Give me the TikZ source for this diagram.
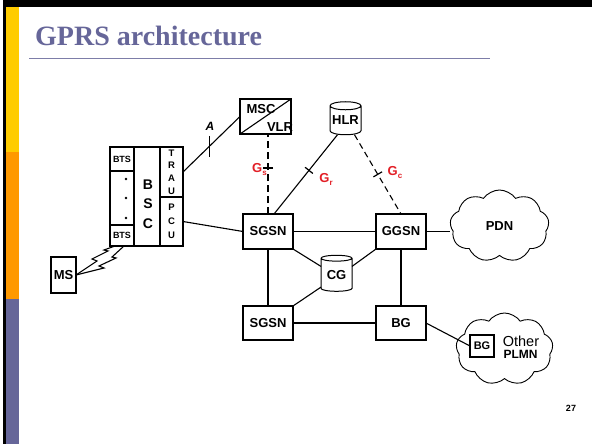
\documentclass[tikz,border=0pt]{standalone}
\usepackage{fontspec}
\setmainfont{Liberation Sans}
\newfontfamily\slidetitle{Liberation Serif}
\usetikzlibrary{shapes.geometric,shapes.symbols,decorations.markings}
\definecolor{slidepurple}{HTML}{666699}
\definecolor{slideyellow}{HTML}{FFCC00}
\definecolor{slideorange}{HTML}{FF9900}
\definecolor{gred}{HTML}{E21F26}
\newcommand{\netfont}{\fontsize{13}{13}\selectfont\bfseries}
\newcommand{\gsub}[1]{G\raisebox{-0.45ex}{\fontsize{8}{8}\selectfont #1}}
\tikzset{
  netbox/.style={draw, line width=1.2pt, fill=white, inner sep=0pt, outer sep=0pt, font=\netfont},
  netdb/.style={cylinder, shape border rotate=90, draw, line width=1pt, aspect=0.3, fill=white, inner sep=0pt, outer sep=0pt, font=\netfont},
  netcloud/.style={cloud, cloud puffs=9, cloud puff arc=110, cloud ignores aspect, draw, line width=0.9pt, fill=white, inner sep=0pt, font=\netfont},
  link/.style={line width=1.8pt},
  thinlink/.style={line width=1.1pt},
  glabel/.style={text=gred, font=\netfont, inner sep=0pt},
  gtick/.style={postaction={decorate, decoration={markings, mark=at position #1 with {\draw[solid, line width=1.2pt] (0,-5pt) -- (0,5pt);}}}}
}
\begin{document}
\begin{tikzpicture}[x=1pt, y=-1pt]
	\useasboundingbox (0,0) rectangle (592,444);
	% Folienrahmen und Farbbalken links
	\fill[black] (3,0) rectangle (592,7);
	\fill[black] (3,0) rectangle (6,444);
	\fill[slideyellow] (6,7) rectangle (19,152);
	\fill[slideorange] (6,152) rectangle (19,299);
	\fill[slidepurple] (6,299) rectangle (19,444);
	% Titel
	\node[anchor=base west, inner sep=0pt, text=slidepurple, font=\slidetitle\bfseries\fontsize{28}{28}\selectfont] (title) at (35,46) {GPRS architecture};
	\draw[slidepurple!85, line width=1pt] (29,59) -- (490,59);
	% Funkteil: BTS, BSC, TRAU/PCU
	\draw[netbox] (110,147) rectangle (134,246);
	\node[netbox, minimum width=24, minimum height=24, font=\fontsize{9}{9}\selectfont\bfseries] (bts1) at (122,159) {BTS};
	\node[netbox, minimum width=24, minimum height=21, font=\fontsize{9}{9}\selectfont\bfseries] (bts2) at (122,235.5) {BTS};
	\foreach \y in {179,198,218}
		\fill (126,\y) circle (1.3);
	\node[netbox, minimum width=26, minimum height=99] (bsc) at (147,196.5) {};
	\node[align=center, inner sep=0pt, font=\fontsize{14}{19.5}\selectfont\bfseries] (bsctxt) at (148,204) {B\\S\\C};
	\node[netbox, minimum width=23, minimum height=50, align=center, font=\fontsize{9.5}{12.7}\selectfont\bfseries] (trau) at (171.5,172) {T\\R\\A\\U};
	\node[netbox, minimum width=23, minimum height=49, align=center, font=\fontsize{9.5}{14}\selectfont\bfseries] (pcu) at (171.5,221.5) {P\\C\\U};
	% Mobilstation mit Funkstrecke
	\node[netbox, minimum width=25, minimum height=36] (ms) at (63.5,275) {MS};
	\draw[thinlink] (ms.east) -- (97,261) -- (92,259) -- (108,251) -- (104,250) -- (115,246);
	\draw[thinlink] (ms.east) -- (104,268) -- (99,266) -- (116,258) -- (112,257) -- (124,246);
	% MSC/VLR und HLR
	\node[netbox, minimum width=51, minimum height=35] (msc) at (265.5,116.5) {};
	\draw[thinlink] (msc.south west) -- (msc.north east);
	\node[inner sep=0pt, font=\netfont] (msctxt) at (261,109) {MSC};
	\node[inner sep=0pt, font=\netfont] (vlrtxt) at (280,127) {VLR};
	\node[netdb, minimum width=31, minimum height=33] (hlr) at (345.5,120.5) {HLR};
	% externe Netze
	\node[netcloud, minimum width=99, minimum height=72] (pdn) at (499.5,226) {PDN};
	\node[netcloud, minimum width=97, minimum height=72] (plmn) at (504.5,349) {};
	\node[netbox, minimum width=24, minimum height=22, font=\fontsize{11}{11}\selectfont\bfseries] (bg2) at (482,346) {BG};
	\node[inner sep=0pt, font=\fontsize{14.5}{14.5}\selectfont] (othertxt) at (521,341) {Other};
	\node[inner sep=0pt, font=\fontsize{12}{12}\selectfont\bfseries] (plmntxt) at (520.5,354) {PLMN};
	% GPRS-Kernnetz
	\node[netbox, minimum width=50, minimum height=35] (sgsn) at (268,231.5) {SGSN};
	\node[netbox, minimum width=50, minimum height=35] (ggsn) at (401,231.5) {GGSN};
	\node[netdb, minimum width=31, minimum height=36] (cg) at (336.5,275) {CG};
	\node[netbox, minimum width=50, minimum height=34] (sgsn2) at (268,323) {SGSN};
	\node[netbox, minimum width=50, minimum height=34] (bg) at (401,323) {BG};
	% Schnittstelle A
	\draw[thinlink] (trau.east) -- (msc.west) coordinate[pos=.47] (atick);
	\draw[thinlink] (atick) ++(0,-10) -- ++(0,21);
	\node[inner sep=0pt, font=\fontsize{12}{12}\selectfont\bfseries\itshape] (alabel) at (210,126) {A};
	% Gs, Gr, Gc
	\draw[link, dash pattern=on 7pt off 4pt, gtick=.575] (sgsn.north) -- (sgsn.north |- msc.south);
	\node[glabel] (gs) at (259.5,169.5) {\gsub{s}};
	\draw[thinlink, gtick=.45] ([xshift=-8]hlr.south) -- ([xshift=6]sgsn.north);
	\node[glabel] (gr) at (326,179.5) {\gsub{r}};
	\draw[thinlink, dash pattern=on 6pt off 4pt, gtick=.5] ([xshift=9]hlr.south) -- (ggsn.north);
	\node[glabel] (gc) at (395,172.5) {\gsub{c}};
	% Verbindungen
	\draw[thinlink] (pcu.east) -- (sgsn.west);
	\draw[link] (sgsn) -- (ggsn);
	\draw[link] (sgsn) -- (sgsn2);
	\draw[link] (ggsn) -- (bg);
	\draw[link] (sgsn2) -- (bg);
	\draw[thinlink] (sgsn.south east) -- (cg.151);
	\draw[thinlink] (ggsn.south west) -- (cg.29);
	\draw[thinlink] (sgsn2.north east) -- (cg.218);
	\draw[link] (ggsn.east) -- (ggsn.east -| pdn.west);
	\draw[thinlink] (bg.east) -- (bg2.west);
	% Seitennummer
	\node[inner sep=0pt, font=\fontsize{9}{9}\selectfont\bfseries] (pagenum) at (571,408) {27};
\end{tikzpicture}
\end{document}
